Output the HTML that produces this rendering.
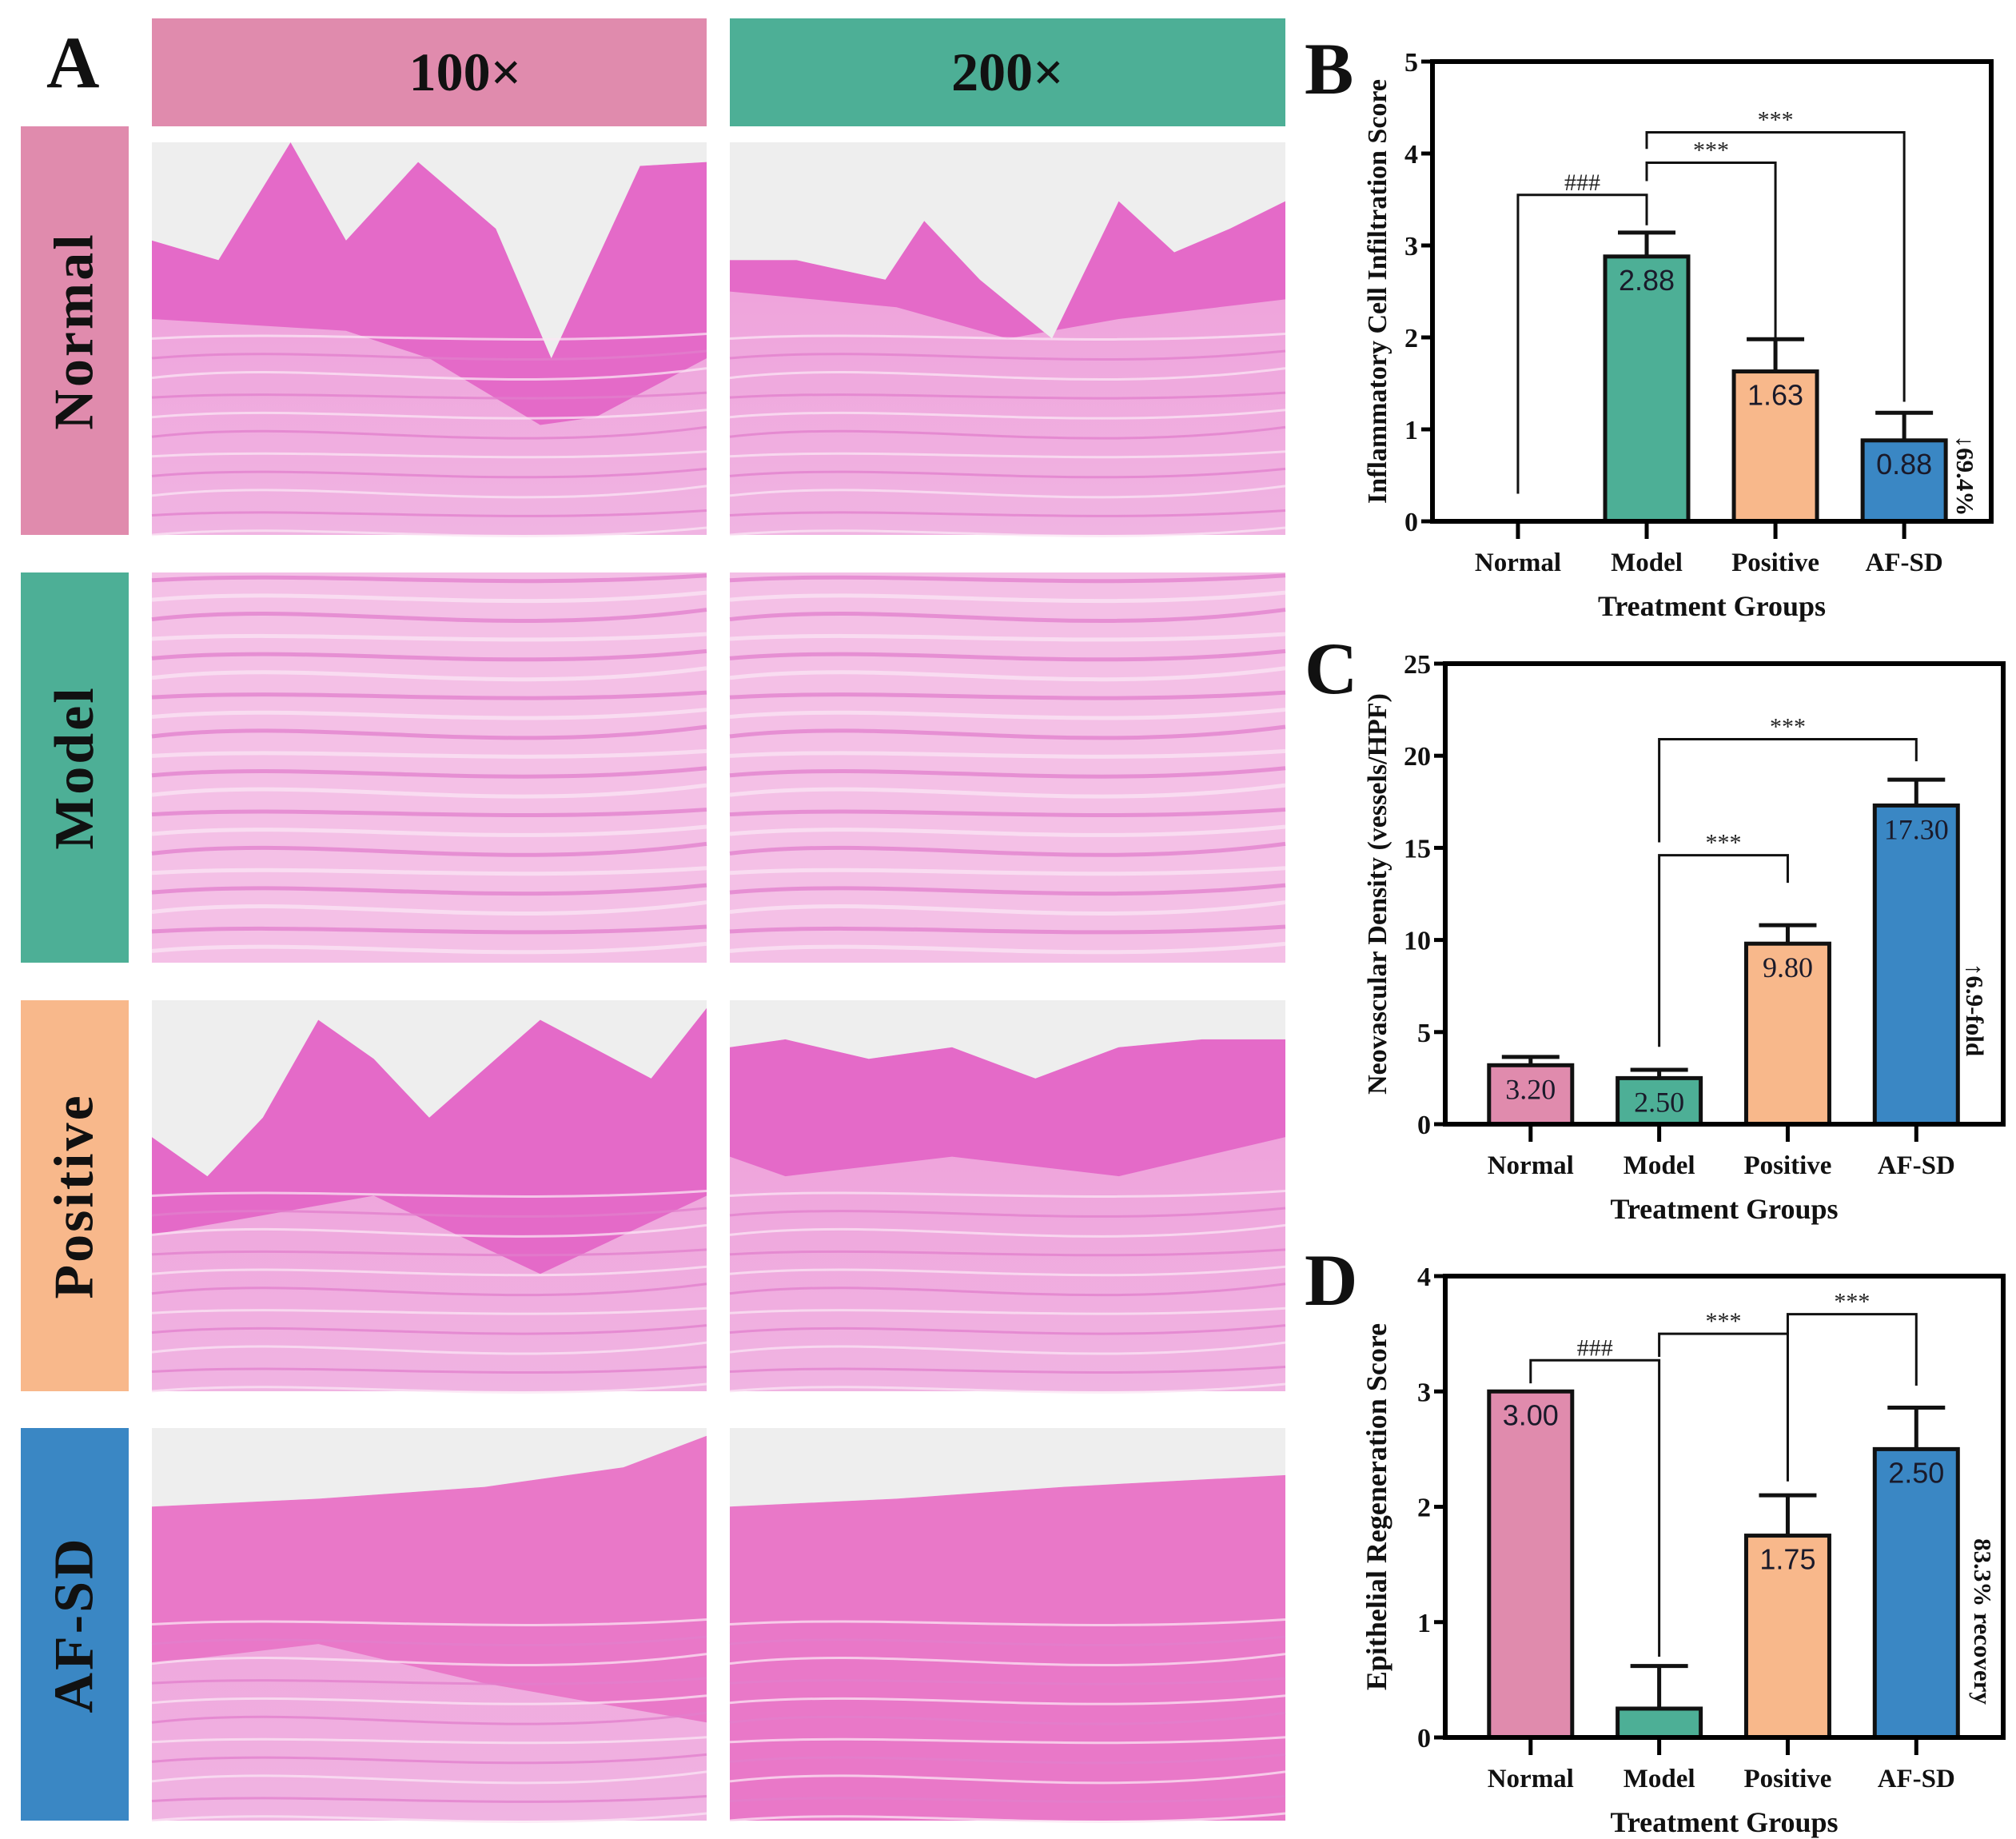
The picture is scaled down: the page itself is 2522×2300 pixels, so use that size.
<!DOCTYPE html>
<html><head><meta charset="utf-8">
<style>
html,body{margin:0;padding:0;background:#fff;}
body{width:2522px;height:2300px;position:relative;overflow:hidden;font-family:"Liberation Serif",serif;}
.abs{position:absolute;}
.hdr{position:absolute;display:flex;align-items:center;justify-content:center;font:bold 68px "Liberation Serif",serif;color:#111;}
.row{position:absolute;display:flex;align-items:center;justify-content:center;}
.row span{transform:rotate(-90deg);white-space:nowrap;font:bold 70px "Liberation Serif",serif;color:#111;letter-spacing:3px;}
.plbl{position:absolute;font:bold 92px "Liberation Serif",serif;color:#111;line-height:1;}
</style></head>
<body>
<div class="plbl" style="left:58px;top:32px;">A</div>
<div class="hdr" style="left:190px;top:23px;width:694px;height:135px;background:#e08bad;"><span style="margin-left:90px">100×</span></div>
<div class="hdr" style="left:913px;top:23px;width:695px;height:135px;background:#4daf96;">200×</div>

<div class="row" style="left:26px;top:158px;width:135px;height:511px;background:#e08bad;"><span>Normal</span></div>
<div class="row" style="left:26px;top:716px;width:135px;height:488px;background:#4daf96;"><span>Model</span></div>
<div class="row" style="left:26px;top:1251px;width:135px;height:489px;background:#f8b88b;"><span>Positive</span></div>
<div class="row" style="left:26px;top:1786px;width:135px;height:491px;background:#3a87c4;"><span>AF-SD</span></div>

<svg id="histo" class="abs" style="left:0;top:0" width="1620" height="2300"></svg>

<div class="plbl" style="left:1632px;top:40px;">B</div>
<div class="plbl" style="left:1632px;top:790px;">C</div>
<div class="plbl" style="left:1632px;top:1555px;">D</div>

<svg id="charts" class="abs" style="left:0;top:0" width="2522" height="2300"></svg>

<script>
// ---------- chart data ----------
const categories = ["Normal","Model","Positive","AF-SD"];
const barColors = ["#e08bad","#4daf96","#f8b88b","#3a87c4"];

const bValues = [0, 2.88, 1.63, 0.88];
const bErrors = [0, 3.14, 1.98, 1.18];
const bLabels = ["", "2.88", "1.63", "0.88"];
const bTicks = [0,1,2,3,4,5];
const bBrackets = [[0,1,3.55,0.3,3.22,"###"],[1,2,3.9,3.7,1.98,"***"],[1,3,4.23,4.05,1.3,"***"]];

const cValues = [3.2, 2.5, 9.8, 17.3];
const cErrors = [3.65, 2.95, 10.8, 18.7];
const cLabels = ["3.20","2.50","9.80","17.30"];
const cTicks = [0,5,10,15,20,25];
const cBrackets = [[1,2,14.6,4.2,13.1,"***"],[1,3,20.9,15.3,19.7,"***"]];

const dValues = [3.0, 0.25, 1.75, 2.5];
const dErrors = [0, 0.62, 2.1, 2.86];
const dLabels = ["3.00","","1.75","2.50"];
const dTicks = [0,1,2,3,4];
const dBrackets = [[0,1,3.27,3.07,0.7,"###"],[1,2,3.5,3.3,2.22,"***"],[2,3,3.67,3.5,3.05,"***"]];

const NS="http://www.w3.org/2000/svg";
function mk(parent,tag,attrs,text){const e=document.createElementNS(NS,tag);for(const k in attrs)e.setAttribute(k,attrs[k]);if(text!==undefined)e.textContent=text;parent.appendChild(e);return e;}

function drawChart(svg,cfg){
  const {left,right,top,zero,max,values,errors,labels,ticks,brackets,yTitle,valFont,note,noteX,noteY,name,yTitleSize}=cfg;
  const g=mk(svg,"g",{});
  
  
  const y=v=>zero-(v/max)*(zero-top);
  const step=(right-left)/4.34, off=(right-left)*0.153;
  const x=i=>left+off+i*step;
  const bw=104;
  values.forEach((v,i)=>{
    if(errors[i]>v){
      const eb=mk(g,"path",{d:`M${x(i)} ${y(v)}V${y(errors[i])}M${x(i)-36} ${y(errors[i])}H${x(i)+36}`,stroke:"#111","stroke-width":5,fill:"none"});
      
      
    }
    if(v>0){
      const r=mk(g,"rect",{x:x(i)-bw/2,y:y(v),width:bw,height:zero-y(v),fill:barColors[i],stroke:"#111","stroke-width":5});
      
      
    }
    if(labels[i]){
      const t=mk(g,"text",{x:x(i),y:y(v)+42,"text-anchor":"middle","font-family":valFont,"font-size":36,fill:"#1a1a2a"},labels[i]);
      
      
    }
  });
  brackets.forEach(b=>{
    const [a,c,yb,ya,yc,lab]=b;
    const p=mk(g,"path",{d:`M${x(a)} ${y(ya)}V${y(yb)}H${x(c)}V${y(yc)}`,stroke:"#111","stroke-width":3,fill:"none"});
    
    
    const t=mk(g,"text",{x:(x(a)+x(c))/2,y:y(yb)-6,"text-anchor":"middle","font-family":"Liberation Serif, serif","font-size":30,fill:"#222"},lab);
    
    
  });
  const fr=mk(g,"rect",{x:left,y:top,width:right-left,height:zero-top,fill:"none",stroke:"#000","stroke-width":6});
  
  
  ticks.forEach(t=>{
    mk(g,"line",{x1:left-14,x2:left,y1:y(t),y2:y(t),stroke:"#000","stroke-width":5});
    const tl=mk(g,"text",{x:left-18,y:y(t)+12,"text-anchor":"end","font-family":"Liberation Serif, serif","font-weight":"bold","font-size":34,fill:"#111"},String(t));
    
    
  });
  categories.forEach((c,i)=>{
    mk(g,"line",{x1:x(i),x2:x(i),y1:zero,y2:zero+22,stroke:"#000","stroke-width":5});
    const tl=mk(g,"text",{x:x(i),y:zero+62,"text-anchor":"middle","font-family":"Liberation Serif, serif","font-weight":"bold","font-size":33,fill:"#111"},c);
    
    
  });
  const xt=mk(g,"text",{x:(left+right)/2,y:zero+118,"text-anchor":"middle","font-family":"Liberation Serif, serif","font-weight":"bold","font-size":36,fill:"#111"},"Treatment Groups");
  
  
  const yt=mk(g,"text",{x:0,y:0,transform:`translate(1734 ${(top+zero)/2}) rotate(-90)`,"text-anchor":"middle","font-family":"Liberation Serif, serif","font-weight":"bold","font-size":yTitleSize,fill:"#111"},yTitle);
  
  
  const nt=mk(g,"text",{x:0,y:0,transform:`translate(${noteX} ${noteY}) rotate(90)`,"text-anchor":"middle","font-family":"Liberation Serif, serif","font-weight":"bold","font-size":31,fill:"#111"},note);
  
  
}
const cs=document.getElementById("charts");
drawChart(cs,{name:"chart-b",left:1792,right:2491,top:77,zero:652,max:5,values:bValues,errors:bErrors,labels:bLabels,ticks:bTicks,brackets:bBrackets,yTitle:"Inflammatory Cell Infiltration Score",valFont:"Liberation Sans, sans-serif",note:"↓69.4%",noteX:2448,noteY:595,yTitleSize:34});
drawChart(cs,{name:"chart-c",left:1808,right:2506,top:830,zero:1406,max:25,values:cValues,errors:cErrors,labels:cLabels,ticks:cTicks,brackets:cBrackets,yTitle:"Neovascular Density (vessels/HPF)",valFont:"Liberation Serif, serif",note:"↑6.9-fold",noteX:2460,noteY:1263,yTitleSize:34});
drawChart(cs,{name:"chart-d",left:1808,right:2506,top:1596,zero:2173,max:4,values:dValues,errors:dErrors,labels:dLabels,ticks:dTicks,brackets:dBrackets,yTitle:"Epithelial Regeneration Score",valFont:"Liberation Sans, sans-serif",note:"83.3% recovery",noteX:2470,noteY:2028,yTitleSize:36});

// ---------- histology placeholders ----------
const hs=document.getElementById("histo");
const defs=mk(hs,"defs",{});
const lg=mk(defs,"linearGradient",{id:"derm",x1:0,y1:0,x2:0,y2:1});
mk(lg,"stop",{offset:"0","stop-color":"#ee9ad8"});mk(lg,"stop",{offset:"1","stop-color":"#f0b4e2"});
const cols=[190,913], colW=[694,695];
const rows=[[178,491],[716,488],[1251,489],[1786,491]];
const epi={
 "0-0":{gray:"0,0 1,0 1,0.05 0.88,0.06 0.72,0.55 0.62,0.22 0.48,0.05 0.35,0.25 0.25,0 0.12,0.3 0,0.25",epi:"0,0.25 0.12,0.3 0.25,0 0.35,0.25 0.48,0.05 0.62,0.22 0.72,0.55 0.88,0.06 1,0.05 1,0.55 0.8,0.7 0.7,0.72 0.5,0.55 0.35,0.48 0,0.45"},
 "0-1":{gray:"0,0 1,0 1,0.15 0.9,0.22 0.8,0.28 0.7,0.15 0.58,0.5 0.45,0.35 0.35,0.2 0.28,0.35 0.12,0.3 0,0.3",epi:"0,0.3 0.12,0.3 0.28,0.35 0.35,0.2 0.45,0.35 0.58,0.5 0.7,0.15 0.8,0.28 0.9,0.22 1,0.15 1,0.4 0.7,0.45 0.5,0.5 0.3,0.42 0,0.38"},
 "2-0":{gray:"0,0 1,0 1,0.02 0.9,0.2 0.7,0.05 0.5,0.3 0.4,0.15 0.3,0.05 0.2,0.3 0.1,0.45 0,0.35",epi:"0,0.35 0.1,0.45 0.2,0.3 0.3,0.05 0.4,0.15 0.5,0.3 0.7,0.05 0.9,0.2 1,0.02 1,0.5 0.7,0.7 0.4,0.5 0.2,0.55 0,0.6"},
 "2-1":{gray:"0,0 1,0 1,0.1 0.85,0.1 0.7,0.12 0.55,0.2 0.4,0.12 0.25,0.15 0.1,0.1 0,0.12",epi:"0,0.12 0.1,0.1 0.25,0.15 0.4,0.12 0.55,0.2 0.7,0.12 0.85,0.1 1,0.1 1,0.35 0.7,0.45 0.4,0.4 0.1,0.45 0,0.4"},
 "3-0":{gray:"0,0 1,0 1,0.02 0.85,0.1 0.6,0.15 0.3,0.18 0,0.2",epi:"0,0.2 0.3,0.18 0.6,0.15 0.85,0.1 1,0.02 1,0.75 0.6,0.65 0.3,0.55 0,0.6"},
 "3-1":{gray:"0,0 1,0 1,0.12 0.6,0.15 0.3,0.18 0,0.2",epi:"0,0.2 0.3,0.18 0.6,0.15 1,0.12 1,1 0,1"}
};
rows.forEach((r,ri)=>{cols.forEach((cx,ci)=>{
  const w=colW[ci],h=r[1],top=r[0];
  const g=mk(hs,"g",{transform:`translate(${cx} ${top})`});
  
  
  mk(g,"rect",{x:0,y:0,width:w,height:h,fill:ri===1?"#f4c0e6":"url(#derm)"});
  const k=ri+"-"+ci;
  const P=s=>s.split(" ").map(p=>{const [a,b]=p.split(",");return (a*w).toFixed(1)+","+(b*h).toFixed(1);}).join(" ");
  if(epi[k]){
    mk(g,"polygon",{points:P(epi[k].epi),fill:ri===3?"#e978c8":"#e46ac8"});
    mk(g,"polygon",{points:P(epi[k].gray),fill:"#eeeeee"});
  }
  const start=ri===1?0.02:0.35;
  for(let j=0;j<20;j++){
    const yy=h*(start+j*0.05), amp=12+(j%3)*6;
    if(yy>h) break;
    if(ri===1||yy>h*0.45) mk(g,"path",{d:`M0 ${yy} C ${w*0.3} ${yy-amp} ${w*0.6} ${yy+amp} ${w} ${yy-amp/2}`,stroke:j%2?"#fbe6f4":"#e27fcc","stroke-width":ri===1?5:3,fill:"none",opacity:0.75});
  }
});});
</script>
</body></html>
